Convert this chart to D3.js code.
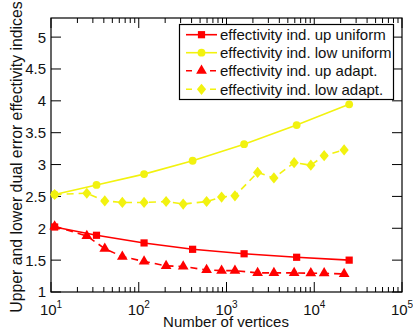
<!DOCTYPE html>
<html>
<head>
<meta charset="utf-8">
<script src="https://cdn.jsdelivr.net/npm/d3@7"></script>
<style>
  html, body { margin: 0; padding: 0; background: #fff; }
  svg { display: block; font-family: "Liberation Sans", Arial, sans-serif; }
</style>
</head>
<body>
<svg id="chart" width="413" height="330"></svg>
<script>
// Uniform refinement: number of vertices and effectivity indices
const uniformVertices = [11, 33, 115, 411, 1587, 6300, 25000];
const upUniform  = [2.02, 1.89, 1.77, 1.67, 1.60, 1.545, 1.50];
const lowUniform = [2.53, 2.68, 2.85, 3.06, 3.32, 3.62, 3.945];

// Adaptive refinement
const adaptVertices = [11, 25.6, 41, 65, 115, 205, 321, 593, 879, 1248, 2262, 3470, 5900, 9140, 12970, 21900];
const upAdapt  = [2.03, 1.88, 1.68, 1.555, 1.48, 1.41, 1.40, 1.346, 1.335, 1.335, 1.30, 1.30, 1.30, 1.294, 1.294, 1.283];
const lowAdapt = [2.53, 2.55, 2.43, 2.405, 2.405, 2.42, 2.38, 2.42, 2.49, 2.51, 2.876, 2.79, 3.03, 2.99, 3.14, 3.23];

const yTicks = [1, 1.5, 2, 2.5, 3, 3.5, 4, 4.5, 5];
const xDecades = [1, 2, 3, 4, 5];

const seriesNames = [
  "effectivity ind. up uniform",
  "effectivity ind. low uniform",
  "effectivity ind. up adapt.",
  "effectivity ind. low adapt."
];

const RED = "#ff0000", YEL = "#f2f20f";

const svg = d3.select("#chart");
const plotL = 51, plotR = 402, plotT = 18, plotB = 292;

const x = d3.scaleLog().domain([10, 1e5]).range([plotL, plotR]);
const y = d3.scaleLinear().domain([1, 5.3]).range([plotB, plotT]);

// plot frame
svg.append("rect").attr("x", plotL).attr("y", plotT)
  .attr("width", plotR - plotL).attr("height", plotB - plotT)
  .attr("fill", "none").attr("stroke", "#000").attr("stroke-width", 1.2);

// ticks (inward on all four sides)
const minor = [];
for (let d = 1; d < 5; d++) for (let m = 2; m <= 9; m++) minor.push(m * Math.pow(10, d));
const tk = svg.append("g").attr("stroke", "#000").attr("stroke-width", 1);
xDecades.forEach(d => {
  const px = x(Math.pow(10, d));
  tk.append("line").attr("x1", px).attr("x2", px).attr("y1", plotB).attr("y2", plotB - 10);
  tk.append("line").attr("x1", px).attr("x2", px).attr("y1", plotT).attr("y2", plotT + 10);
});
minor.forEach(v => {
  const px = x(v);
  tk.append("line").attr("x1", px).attr("x2", px).attr("y1", plotB).attr("y2", plotB - 5);
  tk.append("line").attr("x1", px).attr("x2", px).attr("y1", plotT).attr("y2", plotT + 5);
});
yTicks.forEach(v => {
  const py = y(v);
  tk.append("line").attr("x1", plotL).attr("x2", plotL + 10).attr("y1", py).attr("y2", py);
  tk.append("line").attr("x1", plotR).attr("x2", plotR - 10).attr("y1", py).attr("y2", py);
});

// tick labels
yTicks.forEach(v => {
  svg.append("text").attr("x", plotL - 5).attr("y", y(v)).attr("dy", "0.36em")
    .attr("text-anchor", "end").attr("font-size", 15).attr("fill", "#111")
    .text(String(v));
});
xDecades.forEach(d => {
  const t = svg.append("text").attr("x", x(Math.pow(10, d))).attr("y", 315)
    .attr("text-anchor", "middle").attr("font-size", 15).attr("fill", "#111");
  t.append("tspan").text("10");
  t.append("tspan").attr("dy", -7).attr("font-size", 10).text(String(d));
});

// axis titles
svg.append("text").attr("x", 226).attr("y", 327)
  .attr("text-anchor", "middle").attr("font-size", 15).attr("fill", "#111")
  .text("Number of vertices");
svg.append("text")
  .attr("transform", `translate(22,157) rotate(-90)`)
  .attr("text-anchor", "middle").attr("font-size", 15.8).attr("fill", "#111")
  .text("Upper and lower dual error effectivity indices");

// marker symbols
const diamondShape = { draw(ctx) { ctx.moveTo(0, -5.6); ctx.lineTo(4.6, 0); ctx.lineTo(0, 5.6); ctx.lineTo(-4.6, 0); ctx.closePath(); } };
const sym = {
  square: d3.symbol().type(d3.symbolSquare).size(52),
  circle: d3.symbol().type(d3.symbolCircle).size(48),
  triangle: d3.symbol().type(d3.symbolTriangle).size(50),
  diamond: d3.symbol().type(diamondShape)
};

const series = [
  { xs: uniformVertices, ys: upUniform,  color: RED, dash: null,  marker: "square" },
  { xs: uniformVertices, ys: lowUniform, color: YEL, dash: null,  marker: "circle" },
  { xs: adaptVertices,   ys: upAdapt,    color: RED, dash: "7,5", marker: "triangle" },
  { xs: adaptVertices,   ys: lowAdapt,   color: YEL, dash: "7,5", marker: "diamond" }
];

const line = d3.line().x(d => x(d[0])).y(d => y(d[1]));

// draw in reverse so the first series sits on top
series.slice().reverse().forEach(s => {
  const pts = s.xs.map((v, i) => [v, s.ys[i]]);
  svg.append("path").attr("d", line(pts)).attr("fill", "none")
    .attr("stroke", s.color).attr("stroke-width", 1.6)
    .attr("stroke-dasharray", s.dash);
  svg.append("g").selectAll("path").data(pts).join("path")
    .attr("transform", d => `translate(${x(d[0])},${y(d[1])})`)
    .attr("d", sym[s.marker]()).attr("fill", s.color);
});

// legend
const lg = svg.append("g");
lg.append("rect").attr("x", 179.5).attr("y", 24.5).attr("width", 214).attr("height", 75)
  .attr("fill", "#fff").attr("stroke", "#000").attr("stroke-width", 1.2);
const rowY = [34.7, 52.7, 70.7, 89.3];
series.forEach((s, i) => {
  const g = lg.append("g");
  g.append("line").attr("x1", 186).attr("x2", 217).attr("y1", rowY[i]).attr("y2", rowY[i])
    .attr("stroke", s.color).attr("stroke-width", 1.6)
    .attr("stroke-dasharray", s.dash ? "6,6" : null);
  g.append("path")
    .attr("transform", `translate(201.5,${rowY[i]})`)
    .attr("d", sym[s.marker]()).attr("fill", s.color);
  g.append("text").attr("x", 220).attr("y", rowY[i]).attr("dy", "0.36em")
    .attr("font-size", 15).attr("fill", "#111").text(seriesNames[i]);
});
</script>
</body>
</html>
